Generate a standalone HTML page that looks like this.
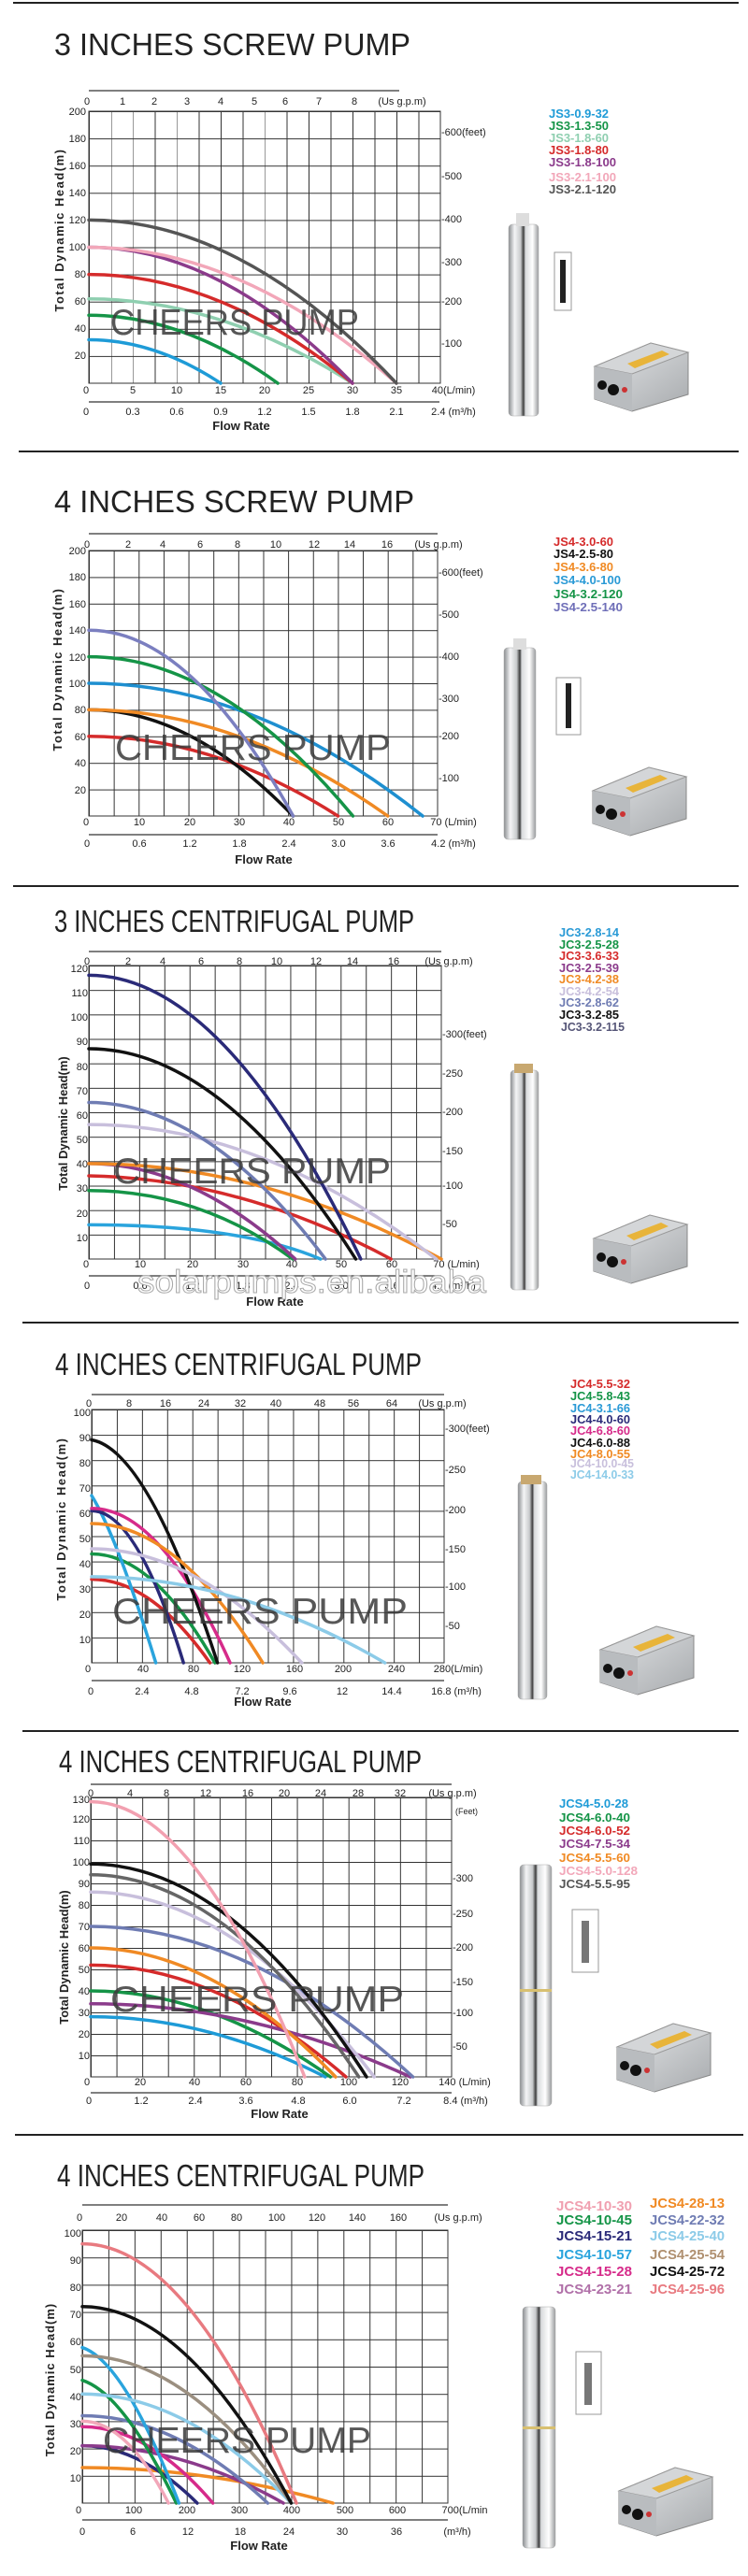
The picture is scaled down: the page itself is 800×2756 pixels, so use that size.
<!DOCTYPE html>
<html><head><meta charset="utf-8"><style>
html,body{margin:0;padding:0;background:#fff}
svg{display:block}
text{font-family:"Liberation Sans",sans-serif;fill:#222}
.t{font-size:33px}
.a{font-size:11px}
.yt{font-size:13px;font-weight:bold}
.fr{font-size:13px;font-weight:bold}
.lg{font-size:13px;font-weight:bold}
.wm{font-size:39px;fill:#3a3a3a;opacity:.85}
.c{fill:none;stroke-width:3.5;vector-effect:non-scaling-stroke;stroke-linecap:round}
.ax{stroke:#333;stroke-width:1.2;fill:none}
</style></head><body>
<svg width="800" height="2756" viewBox="0 0 800 2756" xmlns="http://www.w3.org/2000/svg">
<defs>
<pattern id="g1" x="95" y="119" width="23.5" height="29.1" patternUnits="userSpaceOnUse"><path d="M0,0H23.5M0,0V29.1" stroke="#333" stroke-width="2" fill="none"/></pattern>
<pattern id="g2" x="95" y="589" width="26.64" height="28.4" patternUnits="userSpaceOnUse"><path d="M0,0H26.64M0,0V28.4" stroke="#333" stroke-width="2" fill="none"/></pattern>
<pattern id="g3" x="95" y="1033" width="26.93" height="26.17" patternUnits="userSpaceOnUse"><path d="M0,0H26.93M0,0V26.17" stroke="#333" stroke-width="2" fill="none"/></pattern>
<pattern id="g4" x="98" y="1508" width="26.93" height="27.1" patternUnits="userSpaceOnUse"><path d="M0,0H26.93M0,0V27.1" stroke="#333" stroke-width="2" fill="none"/></pattern>
<pattern id="g5" x="97" y="1923" width="27.57" height="23" patternUnits="userSpaceOnUse"><path d="M0,0H27.57M0,0V23" stroke="#333" stroke-width="2" fill="none"/></pattern>
<pattern id="g6" x="88" y="2386" width="27.93" height="29.2" patternUnits="userSpaceOnUse"><path d="M0,0H27.93M0,0V29.2" stroke="#333" stroke-width="2" fill="none"/></pattern>
<linearGradient id="st" x1="0" x2="1" y1="0" y2="0">
<stop offset="0" stop-color="#8a8d90"/><stop offset=".2" stop-color="#f4f5f6"/><stop offset=".4" stop-color="#c8cacc"/><stop offset=".5" stop-color="#3a3a3a"/><stop offset=".56" stop-color="#d8dadc"/><stop offset=".8" stop-color="#ffffff"/><stop offset="1" stop-color="#9a9c9e"/></linearGradient>
<linearGradient id="bx" x1="0" x2="1" y1="0" y2="1"><stop offset="0" stop-color="#e4e6e8"/><stop offset="1" stop-color="#a8abae"/></linearGradient>
<g id="box">
<path d="M0,25 L60,0 L100,10 L100,55 L40,73 L0,60 Z" fill="url(#bx)" stroke="#888"/>
<path d="M0,25 L60,0 L100,10 L40,33 Z" fill="#d4d6d8" stroke="#999"/>
<path d="M35,22 L72,8 L80,12 L43,27 Z" fill="#e8b43a"/>
<path d="M0,25 L40,33 L40,73 L0,60 Z" fill="#b9bcbf"/>
<circle cx="8" cy="45" r="5" fill="#111"/><circle cx="20" cy="50" r="6" fill="#111"/><circle cx="32" cy="50" r="3" fill="#c33"/>
</g>
</defs>

<rect x="14" y="2" width="776" height="2" fill="#222"/>
<rect x="20" y="482" width="770" height="2" fill="#222"/>
<rect x="14" y="947" width="776" height="2" fill="#222"/>
<rect x="24" y="1414" width="766" height="2" fill="#222"/>
<rect x="24" y="1851" width="766" height="2" fill="#222"/>
<rect x="16" y="2283" width="779" height="2" fill="#222"/>

<!-- PANEL 1 -->
<text class="t" x="58" y="59" textLength="381" lengthAdjust="spacingAndGlyphs">3 INCHES SCREW PUMP</text>
<line class="ax" x1="95" y1="97" x2="427" y2="97"/>
<g class="a" text-anchor="middle"><text x="93" y="112">0</text><text x="131" y="112">1</text><text x="165" y="112">2</text><text x="200" y="112">3</text><text x="236" y="112">4</text><text x="272" y="112">5</text><text x="305" y="112">6</text><text x="341" y="112">7</text><text x="379" y="112">8</text><text x="430" y="112">(Us g.p.m)</text></g>
<rect x="95" y="119" width="376" height="291" fill="url(#g1)" stroke="#333" stroke-width="1"/>
<g class="a" text-anchor="end"><text x="92" y="123">200</text><text x="92" y="152">180</text><text x="92" y="181">160</text><text x="92" y="210">140</text><text x="92" y="239">120</text><text x="92" y="268">100</text><text x="92" y="297">80</text><text x="92" y="326">60</text><text x="92" y="355">40</text><text x="92" y="384">20</text></g>
<g class="a"><text x="472" y="145">-600(feet)</text><text x="472" y="192">-500</text><text x="472" y="238">-400</text><text x="472" y="284">-300</text><text x="472" y="326">-200</text><text x="472" y="371">-100</text></g>
<g class="a" text-anchor="middle"><text x="92" y="421">0</text><text x="142" y="421">5</text><text x="189" y="421">10</text><text x="236" y="421">15</text><text x="283" y="421">20</text><text x="330" y="421">25</text><text x="377" y="421">30</text><text x="424" y="421">35</text><text x="485" y="421">40(L/min)</text></g>
<line class="ax" x1="95" y1="430" x2="470" y2="430"/>
<g class="a" text-anchor="middle"><text x="92" y="444">0</text><text x="142" y="444">0.3</text><text x="189" y="444">0.6</text><text x="236" y="444">0.9</text><text x="283" y="444">1.2</text><text x="330" y="444">1.5</text><text x="377" y="444">1.8</text><text x="424" y="444">2.1</text><text x="485" y="444">2.4 (m³/h)</text></g>
<text class="fr" x="258" y="460" text-anchor="middle">Flow Rate</text>
<text class="yt" transform="translate(68,246) rotate(-90)" text-anchor="middle" letter-spacing="1.5">Total Dynamic Head(m)</text>
<g transform="translate(95,410) scale(9.4,-1.455)">
<path class="c" stroke="#1e9bd7" d="M0,32 Q7.5,32 15,0"/>
<path class="c" stroke="#159447" d="M0,50 Q10.75,50 21.5,0"/>
<path class="c" stroke="#8fcfb0" d="M0,62 Q15,62 30,0"/>
<path class="c" stroke="#d52b2b" d="M0,80 Q15,80 30,0"/>
<path class="c" stroke="#8b3b8b" d="M0,100 Q15,100 30,0"/>
<path class="c" stroke="#f2a7b9" d="M0,100 Q17.5,100 35,0"/>
<path class="c" stroke="#555" d="M0,120 Q17.5,120 35,0"/>
</g>
<text class="wm" x="118" y="358" textLength="266" lengthAdjust="spacingAndGlyphs">CHEERS PUMP</text>
<g class="lg"><text x="587" y="126" style="fill:#1e9bd7" textLength="64" lengthAdjust="spacingAndGlyphs">JS3-0.9-32</text><text x="587" y="139" style="fill:#159447" textLength="64" lengthAdjust="spacingAndGlyphs">JS3-1.3-50</text><text x="587" y="152" style="fill:#8fcfb0" textLength="64" lengthAdjust="spacingAndGlyphs">JS3-1.8-60</text><text x="587" y="165" style="fill:#d52b2b" textLength="64" lengthAdjust="spacingAndGlyphs">JS3-1.8-80</text><text x="587" y="178" style="fill:#8b3b8b" textLength="72" lengthAdjust="spacingAndGlyphs">JS3-1.8-100</text><text x="587" y="194" style="fill:#f2a7b9" textLength="72" lengthAdjust="spacingAndGlyphs">JS3-2.1-100</text><text x="587" y="207" style="fill:#555" textLength="72" lengthAdjust="spacingAndGlyphs">JS3-2.1-120</text></g>
<rect x="544" y="240" width="32" height="205" rx="4" fill="url(#st)" stroke="#aaa" stroke-width=".5"/>
<rect x="552" y="228" width="14" height="14" fill="#ddd"/>
<rect x="593" y="270" width="18" height="62" fill="#fff" stroke="#999"/>
<rect x="599" y="278" width="6" height="46" fill="#222"/>
<use href="#box" x="636" y="367"/>

<!-- PANEL 2 -->
<text class="t" x="58" y="548" textLength="385" lengthAdjust="spacingAndGlyphs">4 INCHES SCREW PUMP</text>
<line class="ax" x1="95" y1="571" x2="468" y2="571"/>
<g class="a" text-anchor="middle"><text x="93" y="586">0</text><text x="137" y="586">2</text><text x="174" y="586">4</text><text x="214" y="586">6</text><text x="254" y="586">8</text><text x="295" y="586">10</text><text x="336" y="586">12</text><text x="374" y="586">14</text><text x="414" y="586">16</text><text x="469" y="586">(Us g.p.m)</text></g>
<rect x="95" y="589" width="373" height="284" fill="url(#g2)" stroke="#333" stroke-width="1"/>
<g class="a" text-anchor="end"><text x="92" y="593">200</text><text x="92" y="621">180</text><text x="92" y="650">160</text><text x="92" y="678">140</text><text x="92" y="707">120</text><text x="92" y="735">100</text><text x="92" y="763">80</text><text x="92" y="792">60</text><text x="92" y="820">40</text><text x="92" y="849">20</text></g>
<g class="a"><text x="469" y="616">-600(feet)</text><text x="469" y="661">-500</text><text x="469" y="706">-400</text><text x="469" y="751">-300</text><text x="469" y="791">-200</text><text x="469" y="836">-100</text></g>
<g class="a" text-anchor="middle"><text x="92" y="883">0</text><text x="149" y="883">10</text><text x="203" y="883">20</text><text x="256" y="883">30</text><text x="309" y="883">40</text><text x="362" y="883">50</text><text x="415" y="883">60</text><text x="485" y="883">70 (L/min)</text></g>
<line class="ax" x1="95" y1="893" x2="468" y2="893"/>
<g class="a" text-anchor="middle"><text x="93" y="906">0</text><text x="149" y="906">0.6</text><text x="203" y="906">1.2</text><text x="256" y="906">1.8</text><text x="309" y="906">2.4</text><text x="362" y="906">3.0</text><text x="415" y="906">3.6</text><text x="485" y="906">4.2 (m³/h)</text></g>
<text class="fr" x="282" y="924" text-anchor="middle">Flow Rate</text>
<text class="yt" transform="translate(66,716) rotate(-90)" text-anchor="middle" letter-spacing="1.5">Total Dynamic Head(m)</text>
<g transform="translate(95,873) scale(5.329,-1.42)">
<path class="c" stroke="#d52b2b" d="M0,60 Q25,60 50,0"/>
<path class="c" stroke="#111" d="M0,80 Q20.5,80 41,0"/>
<path class="c" stroke="#f08a24" d="M0,80 Q30,80 60,0"/>
<path class="c" stroke="#1e8fd0" d="M0,100 Q33.5,100 67,0"/>
<path class="c" stroke="#159447" d="M0,120 Q26.5,120 53,0"/>
<path class="c" stroke="#7b7fc0" d="M0,140 Q20.5,140 41,0"/>
</g>
<text class="wm" x="123" y="813" textLength="295" lengthAdjust="spacingAndGlyphs">CHEERS PUMP</text>
<g class="lg"><text x="592" y="584" style="fill:#d52b2b" textLength="64" lengthAdjust="spacingAndGlyphs">JS4-3.0-60</text><text x="592" y="597" style="fill:#111" textLength="64" lengthAdjust="spacingAndGlyphs">JS4-2.5-80</text><text x="592" y="611" style="fill:#f08a24" textLength="64" lengthAdjust="spacingAndGlyphs">JS4-3.6-80</text><text x="592" y="625" style="fill:#2a9ad6" textLength="72" lengthAdjust="spacingAndGlyphs">JS4-4.0-100</text><text x="592" y="640" style="fill:#159447" textLength="74" lengthAdjust="spacingAndGlyphs">JS4-3.2-120</text><text x="592" y="654" style="fill:#6f6fb8" textLength="74" lengthAdjust="spacingAndGlyphs">JS4-2.5-140</text></g>
<rect x="539" y="693" width="34" height="205" rx="4" fill="url(#st)" stroke="#aaa" stroke-width=".5"/>
<rect x="549" y="683" width="14" height="12" fill="#ddd"/>
<rect x="595" y="725" width="26" height="61" fill="#fff" stroke="#999"/>
<rect x="605" y="731" width="6" height="48" fill="#222"/>
<use href="#box" x="634" y="821"/>

<!-- PANEL 3 -->
<text class="t" x="58" y="997" textLength="385" lengthAdjust="spacingAndGlyphs">3 INCHES CENTRIFUGAL  PUMP</text>
<line class="ax" x1="95" y1="1018" x2="472" y2="1018"/>
<g class="a" text-anchor="middle"><text x="93" y="1032">0</text><text x="137" y="1032">2</text><text x="174" y="1032">4</text><text x="215" y="1032">6</text><text x="256" y="1032">8</text><text x="296" y="1032">10</text><text x="338" y="1032">12</text><text x="377" y="1032">14</text><text x="421" y="1032">16</text><text x="480" y="1032">(Us g.p.m)</text></g>
<rect x="95" y="1033" width="377" height="314" fill="url(#g3)" stroke="#333" stroke-width="1"/>
<g class="a" text-anchor="end"><text x="94" y="1040">120</text><text x="94" y="1066">110</text><text x="94" y="1092">100</text><text x="94" y="1118">90</text><text x="94" y="1145">80</text><text x="94" y="1171">70</text><text x="94" y="1197">60</text><text x="94" y="1223">50</text><text x="94" y="1249">40</text><text x="94" y="1275">30</text><text x="94" y="1302">20</text><text x="94" y="1328">10</text></g>
<g class="a"><text x="473" y="1110">-300(feet)</text><text x="473" y="1152">-250</text><text x="473" y="1193">-200</text><text x="473" y="1235">-150</text><text x="473" y="1272">-100</text><text x="473" y="1313">-50</text></g>
<g class="a" text-anchor="middle"><text x="92" y="1356">0</text><text x="150" y="1356">10</text><text x="206" y="1356">20</text><text x="260" y="1356">30</text><text x="312" y="1356">40</text><text x="365" y="1356">50</text><text x="419" y="1356">60</text><text x="488" y="1356">70 (L/min)</text></g>
<line class="ax" x1="95" y1="1365" x2="472" y2="1365"/>
<g class="a" text-anchor="middle"><text x="93" y="1379">0</text><text x="150" y="1379">0.6</text><text x="206" y="1379">1.2</text><text x="260" y="1379">1.8</text><text x="312" y="1379">2.4</text><text x="365" y="1379">3.0</text><text x="419" y="1379">3.6</text><text x="485" y="1379">4.2 (m³/h)</text></g>
<text class="fr" x="294" y="1397" text-anchor="middle">Flow Rate</text>
<text class="yt" transform="translate(72,1202) rotate(-90)" text-anchor="middle">Total Dynamic Head(m)</text>
<g transform="translate(95,1347) scale(5.386,-2.617)">
<path class="c" stroke="#2aa4dd" d="M0,14 Q30,14 46,0"/>
<path class="c" stroke="#159447" d="M0,28 Q22,28 40.5,0"/>
<path class="c" stroke="#d52b2b" d="M0,34 Q30,33 60,0"/>
<path class="c" stroke="#8b3b8b" d="M0,39 Q20.5,39 41,0"/>
<path class="c" stroke="#f08a24" d="M0,39 Q35,39 70,0"/>
<path class="c" stroke="#c8bfdc" d="M0,55 Q34.5,55 69,0"/>
<path class="c" stroke="#6f7cb3" d="M0,64 Q23.5,64 47,0"/>
<path class="c" stroke="#111" d="M0,86 Q26.5,86 53,0"/>
<path class="c" stroke="#2a2a78" d="M0,116 Q27,116 54,0"/>
</g>
<text class="wm" x="121" y="1266" textLength="297" lengthAdjust="spacingAndGlyphs">CHEERS PUMP</text>
<text x="147" y="1383" style="font-size:34px;fill:#fff;stroke:#aaa;stroke-width:1" textLength="373" lengthAdjust="spacingAndGlyphs">solarpumps.en.alibaba</text>
<g class="lg"><text x="598" y="1002" style="fill:#2a9ad6" textLength="64" lengthAdjust="spacingAndGlyphs">JC3-2.8-14</text><text x="598" y="1015" style="fill:#159447" textLength="64" lengthAdjust="spacingAndGlyphs">JC3-2.5-28</text><text x="598" y="1027" style="fill:#d52b2b" textLength="64" lengthAdjust="spacingAndGlyphs">JC3-3.6-33</text><text x="598" y="1040" style="fill:#8b3b8b" textLength="64" lengthAdjust="spacingAndGlyphs">JC3-2.5-39</text><text x="598" y="1052" style="fill:#f08a24" textLength="64" lengthAdjust="spacingAndGlyphs">JC3-4.2-38</text><text x="598" y="1065" style="fill:#c8bfdc" textLength="64" lengthAdjust="spacingAndGlyphs">JC3-4.2-54</text><text x="598" y="1077" style="fill:#6f7cb3" textLength="64" lengthAdjust="spacingAndGlyphs">JC3-2.8-62</text><text x="598" y="1090" style="fill:#111" textLength="64" lengthAdjust="spacingAndGlyphs">JC3-3.2-85</text><text x="600" y="1103" style="fill:#555577" textLength="68" lengthAdjust="spacingAndGlyphs">JC3-3.2-115</text></g>
<rect x="546" y="1145" width="30" height="235" rx="4" fill="url(#st)" stroke="#aaa" stroke-width=".5"/>
<rect x="550" y="1138" width="20" height="10" fill="#c8a870"/>
<use href="#box" x="635" y="1300"/>

<!-- PANEL 4 -->
<text class="t" x="59" y="1471" textLength="392" lengthAdjust="spacingAndGlyphs">4 INCHES CENTRIFUGAL  PUMP</text>
<line class="ax" x1="98" y1="1492" x2="475" y2="1492"/>
<g class="a" text-anchor="middle"><text x="95" y="1505">0</text><text x="138" y="1505">8</text><text x="177" y="1505">16</text><text x="218" y="1505">24</text><text x="257" y="1505">32</text><text x="295" y="1505">40</text><text x="342" y="1505">48</text><text x="378" y="1505">56</text><text x="419" y="1505">64</text><text x="473" y="1505">(Us g.p.m)</text></g>
<rect x="98" y="1508" width="377" height="271" fill="url(#g4)" stroke="#333" stroke-width="1"/>
<g class="a" text-anchor="end"><text x="97" y="1515">100</text><text x="97" y="1542">90</text><text x="97" y="1569">80</text><text x="97" y="1596">70</text><text x="97" y="1623">60</text><text x="97" y="1650">50</text><text x="97" y="1677">40</text><text x="97" y="1704">30</text><text x="97" y="1731">20</text><text x="97" y="1758">10</text></g>
<g class="a"><text x="476" y="1532">-300(feet)</text><text x="476" y="1576">-250</text><text x="476" y="1619">-200</text><text x="476" y="1661">-150</text><text x="476" y="1701">-100</text><text x="476" y="1743">-50</text></g>
<g class="a" text-anchor="middle"><text x="94" y="1789">0</text><text x="153" y="1789">40</text><text x="207" y="1789">80</text><text x="259" y="1789">120</text><text x="315" y="1789">160</text><text x="367" y="1789">200</text><text x="424" y="1789">240</text><text x="490" y="1789">280(L/min)</text></g>
<line class="ax" x1="98" y1="1798" x2="475" y2="1798"/>
<g class="a" text-anchor="middle"><text x="97" y="1813">0</text><text x="152" y="1813">2.4</text><text x="205" y="1813">4.8</text><text x="259" y="1813">7.2</text><text x="310" y="1813">9.6</text><text x="366" y="1813">12</text><text x="419" y="1813">14.4</text><text x="488" y="1813">16.8 (m³/h)</text></g>
<text class="fr" x="281" y="1825" text-anchor="middle">Flow Rate</text>
<text class="yt" transform="translate(70,1625) rotate(-90)" text-anchor="middle" letter-spacing="1.5">Total Dynamic Head(m)</text>
<g transform="translate(98,1779) scale(1.346,-2.71)">
<path class="c" stroke="#d52b2b" d="M0,33 Q47,33 94,0"/>
<path class="c" stroke="#159447" d="M0,43 Q49,43 98,0"/>
<path class="c" stroke="#2aa4dd" d="M0,66 Q20,50 51,0"/>
<path class="c" stroke="#2a2a78" d="M0,60 Q36,60 73,0"/>
<path class="c" stroke="#d62b8a" d="M0,61 Q55,61 110,0"/>
<path class="c" stroke="#111" d="M0,88 Q45,84 100,0"/>
<path class="c" stroke="#f08a24" d="M0,55 Q68,55 136,0"/>
<path class="c" stroke="#c8bfdc" d="M0,45 Q83,45 167,0"/>
<path class="c" stroke="#8ccbe8" d="M0,34 Q116,34 233,0"/>
</g>
<text class="wm" x="120" y="1737" textLength="316" lengthAdjust="spacingAndGlyphs">CHEERS PUMP</text>
<g class="lg"><text x="610" y="1485" style="fill:#d52b2b" textLength="64" lengthAdjust="spacingAndGlyphs">JC4-5.5-32</text><text x="610" y="1498" style="fill:#159447" textLength="64" lengthAdjust="spacingAndGlyphs">JC4-5.8-43</text><text x="610" y="1511" style="fill:#2a9ad6" textLength="64" lengthAdjust="spacingAndGlyphs">JC4-3.1-66</text><text x="610" y="1523" style="fill:#2a2a78" textLength="64" lengthAdjust="spacingAndGlyphs">JC4-4.0-60</text><text x="610" y="1535" style="fill:#d62b8a" textLength="64" lengthAdjust="spacingAndGlyphs">JC4-6.8-60</text><text x="610" y="1548" style="fill:#111" textLength="64" lengthAdjust="spacingAndGlyphs">JC4-6.0-88</text><text x="610" y="1560" style="fill:#f08a24" textLength="64" lengthAdjust="spacingAndGlyphs">JC4-8.0-55</text><text x="610" y="1570" style="fill:#c8bfdc" textLength="68" lengthAdjust="spacingAndGlyphs">JC4-10.0-45</text><text x="610" y="1582" style="fill:#8ccbe8" textLength="68" lengthAdjust="spacingAndGlyphs">JC4-14.0-33</text></g>
<rect x="554" y="1585" width="31" height="233" rx="4" fill="url(#st)" stroke="#aaa" stroke-width=".5"/>
<rect x="557" y="1578" width="22" height="10" fill="#c8a870"/>
<use href="#box" x="642" y="1740"/>

<!-- PANEL 5 -->
<text class="t" x="63" y="1896" textLength="388" lengthAdjust="spacingAndGlyphs">4 INCHES CENTRIFUGAL  PUMP</text>
<line class="ax" x1="97" y1="1909" x2="483" y2="1909"/>
<g class="a" text-anchor="middle"><text x="97" y="1922">0</text><text x="139" y="1922">4</text><text x="178" y="1922">8</text><text x="220" y="1922">12</text><text x="265" y="1922">16</text><text x="304" y="1922">20</text><text x="343" y="1922">24</text><text x="383" y="1922">28</text><text x="428" y="1922">32</text><text x="484" y="1922">(Us g.p.m)</text></g>
<rect x="97" y="1923" width="386" height="299" fill="url(#g5)" stroke="#333" stroke-width="1"/>
<g class="a" text-anchor="end"><text x="96" y="1929">130</text><text x="96" y="1950">120</text><text x="96" y="1973">110</text><text x="96" y="1996">100</text><text x="96" y="2019">90</text><text x="96" y="2042">80</text><text x="96" y="2065">70</text><text x="96" y="2088">60</text><text x="96" y="2111">50</text><text x="96" y="2134">40</text><text x="96" y="2157">30</text><text x="96" y="2180">20</text><text x="96" y="2203">10</text></g>
<g class="a"><text x="487" y="1941" style="font-size:9px">(Feet)</text><text x="484" y="2013">-300</text><text x="484" y="2051">-250</text><text x="484" y="2087">-200</text><text x="484" y="2124">-150</text><text x="484" y="2157">-100</text><text x="484" y="2193">-50</text></g>
<g class="a" text-anchor="middle"><text x="93" y="2231">0</text><text x="150" y="2231">20</text><text x="208" y="2231">40</text><text x="263" y="2231">60</text><text x="318" y="2231">80</text><text x="373" y="2231">100</text><text x="428" y="2231">120</text><text x="497" y="2231">140 (L/min)</text></g>
<line class="ax" x1="97" y1="2239" x2="483" y2="2239"/>
<g class="a" text-anchor="middle"><text x="95" y="2251">0</text><text x="151" y="2251">1.2</text><text x="209" y="2251">2.4</text><text x="263" y="2251">3.6</text><text x="319" y="2251">4.8</text><text x="374" y="2251">6.0</text><text x="432" y="2251">7.2</text><text x="498" y="2251">8.4 (m³/h)</text></g>
<text class="fr" x="299" y="2266" text-anchor="middle">Flow Rate</text>
<text class="yt" transform="translate(73,2094) rotate(-90)" text-anchor="middle">Total Dynamic Head(m)</text>
<g transform="translate(97,2222) scale(2.757,-2.3)">
<path class="c" stroke="#1e9bd7" d="M0,28 Q45,28 91,0"/>
<path class="c" stroke="#159447" d="M0,40 Q46,40 93,0"/>
<path class="c" stroke="#d52b2b" d="M0,52 Q49,52 99,0"/>
<path class="c" stroke="#8b3b8b" d="M0,34 Q62,34 124,0"/>
<path class="c" stroke="#f08a24" d="M0,60 Q47,60 95,0"/>
<path class="c" stroke="#6f7cb3" d="M0,70 Q62,70 125,0"/>
<path class="c" stroke="#c8bfdc" d="M0,86 Q55,86 110,0"/>
<path class="c" stroke="#666" d="M0,94 Q52,94 104,0"/>
<path class="c" stroke="#111" d="M0,99 Q54,99 107,0"/>
<path class="c" stroke="#f2a0b0" d="M0,128 Q41,128 83,0"/>
</g>
<text class="wm" x="118" y="2152" textLength="314" lengthAdjust="spacingAndGlyphs">CHEERS PUMP</text>
<g class="lg"><text x="598" y="1934" style="fill:#1e9bd7" textLength="74" lengthAdjust="spacingAndGlyphs">JCS4-5.0-28</text><text x="598" y="1949" style="fill:#159447" textLength="76" lengthAdjust="spacingAndGlyphs">JCS4-6.0-40</text><text x="598" y="1963" style="fill:#d52b2b" textLength="76" lengthAdjust="spacingAndGlyphs">JCS4-6.0-52</text><text x="598" y="1977" style="fill:#8b3b8b" textLength="76" lengthAdjust="spacingAndGlyphs">JCS4-7.5-34</text><text x="598" y="1992" style="fill:#f08a24" textLength="76" lengthAdjust="spacingAndGlyphs">JCS4-5.5-60</text><text x="598" y="2006" style="fill:#f2a7b9" textLength="84" lengthAdjust="spacingAndGlyphs">JCS4-5.0-128</text><text x="598" y="2020" style="fill:#555" textLength="76" lengthAdjust="spacingAndGlyphs">JCS4-5.5-95</text></g>
<rect x="556" y="1995" width="34" height="258" rx="4" fill="url(#st)" stroke="#aaa" stroke-width=".5"/>
<rect x="556" y="2128" width="34" height="3" fill="#d8c070"/>
<rect x="612" y="2043" width="28" height="67" fill="#fff" stroke="#999"/>
<rect x="622" y="2055" width="8" height="45" fill="#777"/>
<use href="#box" x="660" y="2165"/>

<!-- PANEL 6 -->
<text class="t" x="61" y="2339" textLength="393" lengthAdjust="spacingAndGlyphs">4 INCHES CENTRIFUGAL  PUMP</text>
<line class="ax" x1="88" y1="2359" x2="479" y2="2359"/>
<g class="a" text-anchor="middle"><text x="85" y="2376">0</text><text x="130" y="2376">20</text><text x="173" y="2376">40</text><text x="213" y="2376">60</text><text x="253" y="2376">80</text><text x="296" y="2376">100</text><text x="339" y="2376">120</text><text x="382" y="2376">140</text><text x="426" y="2376">160</text><text x="490" y="2376">(Us g.p.m)</text></g>
<rect x="88" y="2386" width="391" height="292" fill="url(#g6)" stroke="#333" stroke-width="1"/>
<g class="a" text-anchor="end"><text x="87" y="2393">100</text><text x="87" y="2422">90</text><text x="87" y="2451">80</text><text x="87" y="2480">70</text><text x="87" y="2509">60</text><text x="87" y="2539">50</text><text x="87" y="2568">40</text><text x="87" y="2597">30</text><text x="87" y="2626">20</text><text x="87" y="2655">10</text></g>
<g class="a" text-anchor="middle"><text x="84" y="2689">0</text><text x="143" y="2689">100</text><text x="200" y="2689">200</text><text x="256" y="2689">300</text><text x="312" y="2689">400</text><text x="369" y="2689">500</text><text x="425" y="2689">600</text><text x="497" y="2689">700(L/min</text></g>
<line class="ax" x1="88" y1="2696" x2="479" y2="2696"/>
<g class="a" text-anchor="middle"><text x="88" y="2712">0</text><text x="142" y="2712">6</text><text x="201" y="2712">12</text><text x="257" y="2712">18</text><text x="309" y="2712">24</text><text x="366" y="2712">30</text><text x="424" y="2712">36</text><text x="489" y="2712">(m³/h)</text></g>
<text class="fr" x="277" y="2728" text-anchor="middle">Flow Rate</text>
<text class="yt" transform="translate(58,2546) rotate(-90)" text-anchor="middle" letter-spacing="1">Total Dynamic Head(m)</text>
<g transform="translate(88,2678) scale(0.5586,-2.92)">
<path class="c" stroke="#f08a24" d="M0,13 Q240,13 480,0"/>
<path class="c" stroke="#2a2a78" d="M0,21 Q110,21 220,0"/>
<path class="c" stroke="#8b3b8b" d="M0,21 Q192,21 385,0"/>
<path class="c" stroke="#d62b8a" d="M0,28 Q125,28 250,0"/>
<path class="c" stroke="#f2a7b9" d="M0,30 Q85,30 165,0"/>
<path class="c" stroke="#6f7cb3" d="M0,32 Q177,32 355,0"/>
<path class="c" stroke="#159447" d="M0,45 Q80,40 180,0"/>
<path class="c" stroke="#2aa4dd" d="M0,57 Q80,52 185,0"/>
<path class="c" stroke="#8ccbe8" d="M0,40 Q200,40 400,0"/>
<path class="c" stroke="#9b8f80" d="M0,54 Q200,54 400,0"/>
<path class="c" stroke="#111" d="M0,72 Q200,72 400,0"/>
<path class="c" stroke="#e87a80" d="M0,95 Q205,95 410,0"/>
</g>
<text class="wm" x="110" y="2624" textLength="287" lengthAdjust="spacingAndGlyphs">CHEERS PUMP</text>
<g class="lg" style="font-size:15px"><text x="595" y="2365" style="fill:#f0a0b0" textLength="81" lengthAdjust="spacingAndGlyphs">JCS4-10-30</text><text x="595" y="2380" style="fill:#159447" textLength="81" lengthAdjust="spacingAndGlyphs">JCS4-10-45</text><text x="595" y="2397" style="fill:#2a2a78" textLength="81" lengthAdjust="spacingAndGlyphs">JCS4-15-21</text><text x="595" y="2417" style="fill:#2aa4dd" textLength="81" lengthAdjust="spacingAndGlyphs">JCS4-10-57</text><text x="595" y="2435" style="fill:#d62b8a" textLength="81" lengthAdjust="spacingAndGlyphs">JCS4-15-28</text><text x="595" y="2454" style="fill:#b070a8" textLength="81" lengthAdjust="spacingAndGlyphs">JCS4-23-21</text>
<text x="695" y="2362" style="fill:#f08a24" textLength="80" lengthAdjust="spacingAndGlyphs">JCS4-28-13</text><text x="695" y="2380" style="fill:#6f7cb3" textLength="80" lengthAdjust="spacingAndGlyphs">JCS4-22-32</text><text x="695" y="2397" style="fill:#8ccbe8" textLength="80" lengthAdjust="spacingAndGlyphs">JCS4-25-40</text><text x="695" y="2417" style="fill:#b09070" textLength="80" lengthAdjust="spacingAndGlyphs">JCS4-25-54</text><text x="695" y="2435" style="fill:#111" textLength="80" lengthAdjust="spacingAndGlyphs">JCS4-25-72</text><text x="695" y="2454" style="fill:#e87a80" textLength="80" lengthAdjust="spacingAndGlyphs">JCS4-25-96</text></g>
<rect x="559" y="2468" width="35" height="258" rx="4" fill="url(#st)" stroke="#aaa" stroke-width=".5"/>
<rect x="559" y="2596" width="35" height="3" fill="#d8c070"/>
<rect x="616" y="2516" width="27" height="67" fill="#fff" stroke="#999"/>
<rect x="625" y="2528" width="8" height="45" fill="#777"/>
<use href="#box" x="662" y="2640"/>
</svg>
</body></html>
